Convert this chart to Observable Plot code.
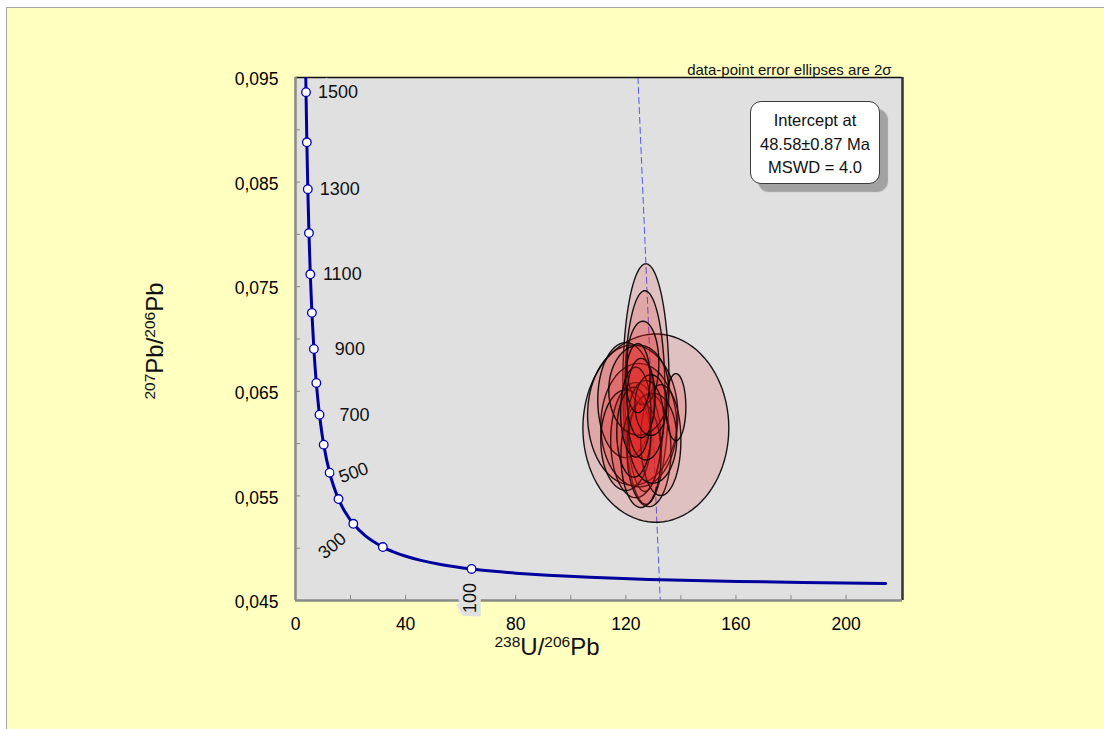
<!DOCTYPE html>
<html>
<head>
<meta charset="utf-8">
<script src="https://cdn.jsdelivr.net/npm/d3@7"></script>
<script src="https://cdn.jsdelivr.net/npm/@observablehq/plot@0.6"></script>
<style>
  html, body { margin: 0; padding: 0; background: #ffffff; overflow: hidden; width: 1104px; height: 729px; font-family: "Liberation Sans", Arial, sans-serif; }
  #frame { position: absolute; left: 6px; top: 7px; width: 1120px; height: 760px; border: 1px solid #a6a6a6; background: #ffffc0; }
  #chart { position: absolute; left: 0; top: 0; }
  #box { position: absolute; left: 750px; top: 101px; width: 130px; height: 83px; box-sizing: border-box; border: 1px solid #3a3a3a; border-radius: 11px; background: #ffffff; box-shadow: 8px 8px 1px #a2a2a2; text-align: center; font-size: 16.5px; line-height: 23.5px; padding-top: 7px; color: #111; }
</style>
</head>
<body>
<div id="frame"></div>
<div id="chart"></div>
<div id="box"></div>
<script>
// ---- Concordia (Tera-Wasserburg) points: age (Ma), 238U/206Pb, 207Pb/206Pb ----
const concordiaAge = [30, 40, 50, 60, 70, 80, 90, 100, 120, 140, 160, 180, 200, 250, 300, 350, 400, 450, 500, 600, 700, 800, 900, 1000, 1100, 1200, 1300, 1400, 1500, 1600];
const concordiaX = [214.38, 160.66, 128.43, 106.94, 91.59, 80.08, 71.13, 63.97, 53.22, 45.55, 39.79, 35.32, 31.73, 25.29, 20.99, 17.92, 15.62, 13.83, 12.40, 10.25, 8.718, 7.568, 6.674, 5.959, 5.375, 4.888, 4.476, 4.123, 3.817, 3.550];
const concordiaY = [0.046624, 0.046819, 0.047015, 0.047213, 0.047411, 0.047612, 0.047812, 0.048014, 0.048423, 0.048837, 0.049256, 0.049679, 0.050108, 0.051204, 0.052333, 0.053499, 0.054701, 0.055941, 0.057219, 0.059901, 0.062757, 0.065800, 0.069042, 0.072500, 0.076187, 0.080122, 0.084322, 0.088806, 0.093597, 0.098715];
const markerAges = [100, 200, 300, 400, 500, 600, 700, 800, 900, 1000, 1100, 1200, 1300, 1400, 1500];
const labelAges = [1500, 1300, 1100, 900, 700, 500, 300, 100];

// ---- Discordia (dashed) line ----
const discordiaX = [124.4, 132.5];
const discordiaY = [0.095, 0.045];

// ---- Data-point error ellipses: centre and semi-axes ----
const ellipseX  = [130.9, 127.3, 126.9, 122.5, 124.7, 120.0, 123.6, 120.0, 128.4, 132.7, 125.5, 129.8, 124.7, 126.2, 138.2, 122.9, 127.3, 123.6, 129.1, 125.5, 124.4];
const ellipseY  = [0.06148, 0.06569, 0.06502, 0.06272, 0.06176, 0.06416, 0.06033, 0.06033, 0.05937, 0.06033, 0.05889, 0.06052, 0.06511, 0.06770, 0.06349, 0.06109, 0.06224, 0.06301, 0.06368, 0.06435, 0.06626];
const ellipseRX = [26.5, 8.4, 7.3, 16.4, 13.8, 10.2, 9.1, 9.1, 8.0, 7.3, 7.3, 8.7, 10.9, 5.8, 3.6, 6.2, 6.5, 5.5, 5.8, 5.1, 4.4];
const ellipseRY = [0.0090, 0.0115, 0.0096, 0.0067, 0.0059, 0.0055, 0.0055, 0.0048, 0.0054, 0.0053, 0.0050, 0.0043, 0.0043, 0.0040, 0.0032, 0.0043, 0.0038, 0.0043, 0.0029, 0.0038, 0.0033];

// ---- Axes ----
const xDomain = [0, 220.5];
const yDomain = [0.045, 0.095];
const xTickLabels = [0, 40, 80, 120, 160, 200];
const xTickMarks = [20, 40, 60, 80, 100, 120, 140, 160, 180, 200];
const yTickLabels = [0.045, 0.055, 0.065, 0.075, 0.085, 0.095];
const yTickMarks = [0.045, 0.05, 0.055, 0.06, 0.065, 0.07, 0.075, 0.08, 0.085, 0.09, 0.095];

// ---- Texts ----
const noteText = "data-point error ellipses are 2\u03c3";
const interceptLines = ["Intercept at", "48.58\u00b10.87 Ma", "MSWD = 4.0"];
const xTitle = [["238", true], ["U/", false], ["206", true], ["Pb", false]];
const yTitle = [["207", true], ["Pb/", false], ["206", true], ["Pb", false]];

// label placement (pixel offsets and rotation) - styling only
const labelPlacement = {1500: [32, 0, 0], 1300: [32, 0, 0], 1100: [32, 0, 0], 900: [36, 0, 0], 700: [35, 0, 0], 500: [24, 0, -20], 300: [-21, 22, -40], 100: [-1, 29, -90]};

// ---- Build tables ----
const concordia = concordiaAge.map((a, i) => ({age: a, x: concordiaX[i], y: concordiaY[i]}));
const markers = concordia.filter(d => markerAges.includes(d.age));
const discordia = discordiaX.map((x, i) => ({x, y: discordiaY[i]}));
const ellipsePts = [];
ellipseX.forEach((cx, i) => {
  const n = 90;
  for (let k = 0; k <= n; k++) {
    const t = 2 * Math.PI * k / n;
    ellipsePts.push({id: i, x: cx + ellipseRX[i] * Math.cos(t), y: ellipseY[i] + ellipseRY[i] * Math.sin(t)});
  }
});
const fmt = d => d.toFixed(3).replace(".", ",");

const labelMarks = [];
labelAges.forEach(a => {
  const [dx, dy, rot] = labelPlacement[a];
  const pt = concordia.filter(d => d.age === a);
  const common = {x: "x", y: "y", text: d => String(d.age), dx, dy, rotate: rot, fontSize: 18, textAnchor: "middle", lineAnchor: "middle"};
  labelMarks.push(Plot.text(pt, {...common, fill: "#e0e0e0", stroke: "#e0e0e0", strokeWidth: 9, strokeLinejoin: "miter"}));
  labelMarks.push(Plot.text(pt, {...common, fill: "#111"}));
});

const plot = Plot.plot({
  width: 1104,
  height: 729,
  marginLeft: 295,
  marginRight: 202,
  marginTop: 77,
  marginBottom: 129,
  x: {domain: xDomain},
  y: {domain: yDomain},
  style: {background: "transparent", fontFamily: "'Liberation Sans', Arial, sans-serif", fontSize: "17.5px", color: "#000", overflow: "visible"},
  marks: [
    Plot.frame({fill: "#e0e0e0", stroke: "none"}),
    Plot.line(discordia, {x: "x", y: "y", stroke: "#5656e8", strokeWidth: 1, strokeDasharray: "6,4", clip: true}),
    Plot.line(ellipsePts, {x: "x", y: "y", z: "id", curve: "linear-closed", fill: "#e01c1c", fillOpacity: 0.16, stroke: "#000", strokeWidth: 1.4, strokeOpacity: 0.9}),
    Plot.ruleX(xTickMarks, {x: d => d, y1: () => yDomain[0], y2: () => yDomain[0], insetTop: -5, stroke: "#8a8a8a", strokeWidth: 1}),
    Plot.ruleY(yTickMarks, {y: d => d, x1: () => xDomain[0], x2: () => xDomain[0], insetRight: -5, stroke: "#8a8a8a", strokeWidth: 1}),
    Plot.ruleY([yDomain[1]], {stroke: "#111", strokeWidth: 1.5}),
    Plot.ruleX([xDomain[1]], {stroke: "#333", strokeWidth: 2.5}),
    Plot.ruleX([xDomain[0]], {stroke: "#8a8a8a", strokeWidth: 2.5}),
    Plot.ruleY([yDomain[0]], {stroke: "#8a8a8a", strokeWidth: 2.5}),
    Plot.line(concordia, {x: "x", y: "y", stroke: "#00009c", strokeWidth: 3, curve: "catmull-rom", clip: true}),
    Plot.dot(markers, {x: "x", y: "y", r: 4.3, fill: "#ffffff", stroke: "#0000b0", strokeWidth: 1.3}),
    ...labelMarks,
    Plot.axisX(xTickLabels, {anchor: "bottom", tickSize: 0, tickPadding: 17, fontSize: 17.5, label: null}),
    Plot.axisY(yTickLabels, {anchor: "left", tickSize: 0, tickPadding: 17, fontSize: 17.5, tickFormat: fmt, dy: 2, label: null}),
    Plot.text([noteText], {frameAnchor: "top-right", text: d => d, dx: -11, dy: -13, textAnchor: "end", fontSize: 15, fill: "#111"})
  ]
});
document.getElementById("chart").appendChild(plot);

// axis titles with superscripts
const svg = d3.select(plot);
function addTitle(parts, transform) {
  const t = svg.append("text")
    .attr("transform", transform)
    .attr("text-anchor", "middle")
    .attr("font-family", "'Liberation Sans', Arial, sans-serif")
    .attr("font-size", 24)
    .attr("fill", "#111");
  let raised = false;
  parts.forEach(([s, sup]) => {
    const sp = t.append("tspan").text(s);
    if (sup) { sp.attr("font-size", 15.5); if (!raised) { sp.attr("dy", -8); raised = true; } }
    else { sp.attr("font-size", 24); if (raised) { sp.attr("dy", 8); raised = false; } }
  });
}
addTitle(xTitle, "translate(547,655)");
addTitle(yTitle, "translate(163,341) rotate(-90)");

// intercept box
const box = document.getElementById("box");
interceptLines.forEach(s => { const d = document.createElement("div"); d.textContent = s; box.appendChild(d); });
</script>
</body>
</html>
